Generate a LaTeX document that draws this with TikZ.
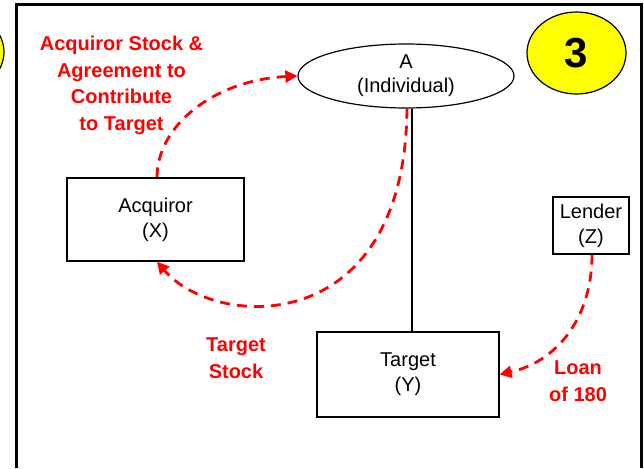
\documentclass[tikz,border=0pt]{standalone}
\usepackage{fontspec}
\setmainfont{Liberation Sans}
\usetikzlibrary{arrows.meta,shapes.geometric}
\definecolor{flowred}{RGB}{255,0,0}
\definecolor{badgeyellow}{RGB}{255,255,0}

\begin{document}
\begin{tikzpicture}[x=1pt, y=-1pt,
	party/.style={draw, line width=1.2pt, inner sep=4pt, align=center, font=\fontsize{20}{25}\selectfont},
	badge/.style={ellipse, draw, line width=1.2pt, fill=badgeyellow, minimum width=99pt, minimum height=82pt},
	flow/.style={flowred, line width=2.8pt, dash pattern=on 10pt off 7pt, -{Triangle[length=12pt, width=12pt]}},
	note/.style={text=flowred, inner sep=0pt, align=center, font=\bfseries\fontsize{20}{26.5}\selectfont}]
	\useasboundingbox (0,0) rectangle (644,468);

	% frame
	\draw[line width=3pt] (16,468) -- (16,4.5) -- (641,4.5) -- (641,468);

	% badges
	\node[badge] (prevbadge) at (-45.5,52) {};
	\node[badge, font=\bfseries\fontsize{42}{42}\selectfont] (stepnum) at (576.5,53) {3};

	% parties
	\node[ellipse, draw, line width=1.2pt, inner sep=0pt, minimum width=216pt, minimum height=64pt,
		align=center, font=\fontsize{20}{24}\selectfont] (A) at (406,76) {A\\(Individual)};
	\node[party, minimum width=177pt, minimum height=83pt] (X) at (155.5,219.5) {Acquiror\\(X)};
	\node[party, minimum width=182pt, minimum height=85pt] (Y) at (408,374.5) {Target\\(Y)};
	\node[party, minimum width=76pt, minimum height=57pt] (Z) at (591,225.5) {Lender\\(Z)};

	% ownership line
	\coordinate (stem) at ([xshift=6pt]A.south);
	\draw[line width=1.2pt] (stem) -- (stem |- Y.north);

	% acquiror stock to A
	\draw[flow] ([xshift=1.5pt]X.north) .. controls (157,125) and (215,80) .. (A.west);

	% target stock to acquiror
	\draw[flow] ([xshift=1pt]A.south) .. controls (405,340) and (215,330) .. ([xshift=1.5pt]X.south);

	% loan to target
	\draw[flow] ([xshift=1pt]Z.south) .. controls (592,320) and (555,362) .. (Y.east);

	% labels
	\node[note] (stocklabel) at (121.5,85.5) {Acquiror Stock \&\\Agreement to\\Contribute\\to Target};
	\node[note] (targetlabel) at (236,358) {Target\\Stock};
	\node[note] (loanlabel) at (578,381) {Loan\\of 180};
\end{tikzpicture}
\end{document}
